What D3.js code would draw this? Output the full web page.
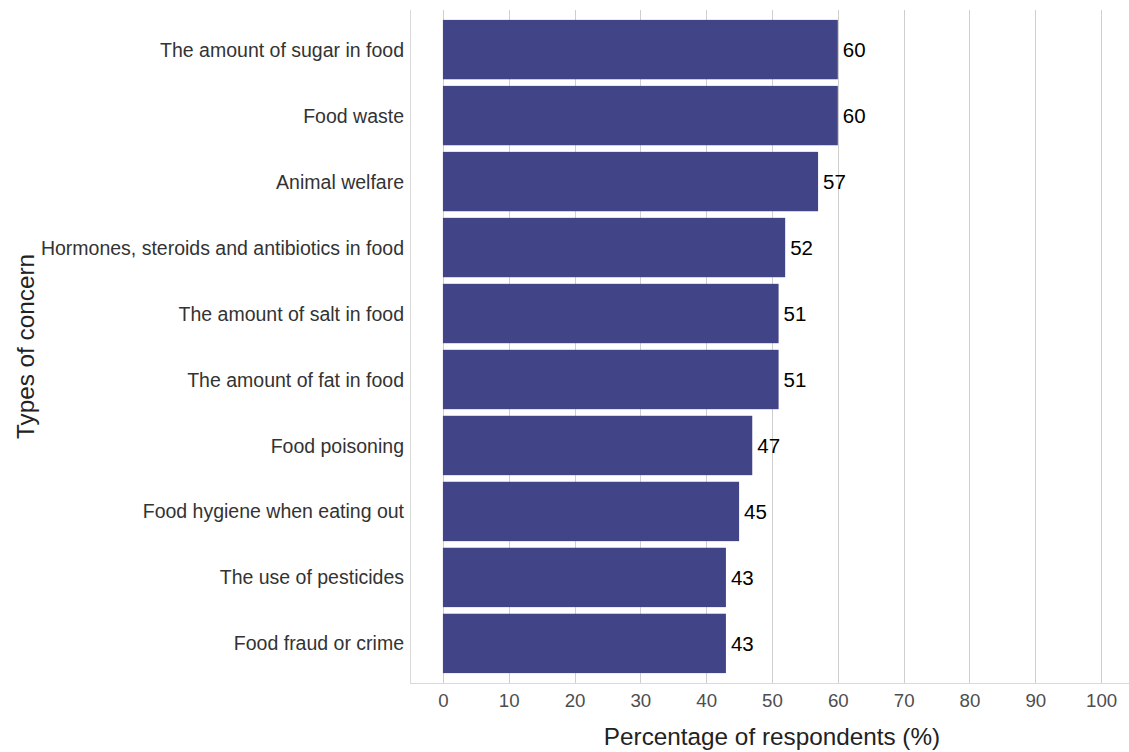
<!DOCTYPE html>
<html><head><meta charset="utf-8">
<script src="https://cdn.jsdelivr.net/npm/d3@7"></script>
<style>body{margin:0;background:#fff}svg{display:block;font-family:"Liberation Sans",Arial,sans-serif}</style>
</head><body><svg id="c" width="1129" height="752"></svg>
<script>
const categories = ["The amount of sugar in food","Food waste","Animal welfare","Hormones, steroids and antibiotics in food","The amount of salt in food","The amount of fat in food","Food poisoning","Food hygiene when eating out","The use of pesticides","Food fraud or crime"];
const values = [60,60,57,52,51,51,47,45,43,43];
const xTicks = [0,10,20,30,40,50,60,70,80,90,100];

(function(){
const svg = d3.select("#c");
const pL = 410, pR = 1134, pT = 10, pB = 683;
const x = d3.scaleLinear().domain([-5,105]).range([pL,pR]);
const y = d3.scaleBand().domain(categories).range([pT,pB]).paddingInner(0.1).paddingOuter(0.15);

// grid
svg.append("g").selectAll("line").data(xTicks).join("line")
  .attr("x1", d=>Math.round(x(d))+0.5).attr("x2", d=>Math.round(x(d))+0.5)
  .attr("y1", pT).attr("y2", pB)
  .attr("stroke", "#cfcfcf").attr("stroke-width", 1);

// panel border left & bottom
svg.append("line").attr("x1",pL+0.5).attr("x2",pL+0.5).attr("y1",pT).attr("y2",pB).attr("stroke","#d9d9d9");
svg.append("line").attr("x1",pL).attr("x2",pR).attr("y1",pB+0.5).attr("y2",pB+0.5).attr("stroke","#d9d9d9");

const data = categories.map((c,i)=>({c, v: values[i]}));
svg.append("g").selectAll("rect").data(data).join("rect")
  .attr("x", x(0)).attr("y", d=>y(d.c))
  .attr("width", d=>x(d.v)-x(0)).attr("height", y.bandwidth())
  .attr("fill", "#414487");

svg.append("g").selectAll("text").data(data).join("text")
  .attr("x", d=>x(d.v)+5).attr("y", d=>y(d.c)+y.bandwidth()/2)
  .attr("dy","0.36em").attr("font-size","20.5px").attr("fill","#000")
  .text(d=>d.v);

// y axis labels
const ya = svg.append("g").attr("transform",`translate(${pL},0)`)
  .call(d3.axisLeft(y).tickSize(0).tickPadding(6));
ya.select(".domain").remove();
ya.selectAll("text").attr("font-size","19.5px").attr("fill","#333").attr("dy","0.36em").attr("font-family","Liberation Sans, Arial, sans-serif");

// x axis labels
const xa = svg.append("g").attr("transform",`translate(0,${pB})`)
  .call(d3.axisBottom(x).tickValues(xTicks).tickSize(0).tickPadding(11));
xa.select(".domain").remove();
xa.selectAll("text").attr("font-size","18.7px").attr("fill","#4d4d4d").attr("font-family","Liberation Sans, Arial, sans-serif");

svg.append("text").attr("x",(pL+pR)/2).attr("y",745).attr("text-anchor","middle")
  .attr("font-size","24.3px").attr("fill","#222").text("Percentage of respondents (%)");
svg.append("text").attr("transform",`translate(34,${(pT+pB)/2}) rotate(-90)`).attr("text-anchor","middle")
  .attr("font-size","24.3px").attr("fill","#222").text("Types of concern");
})();
</script></body></html>
